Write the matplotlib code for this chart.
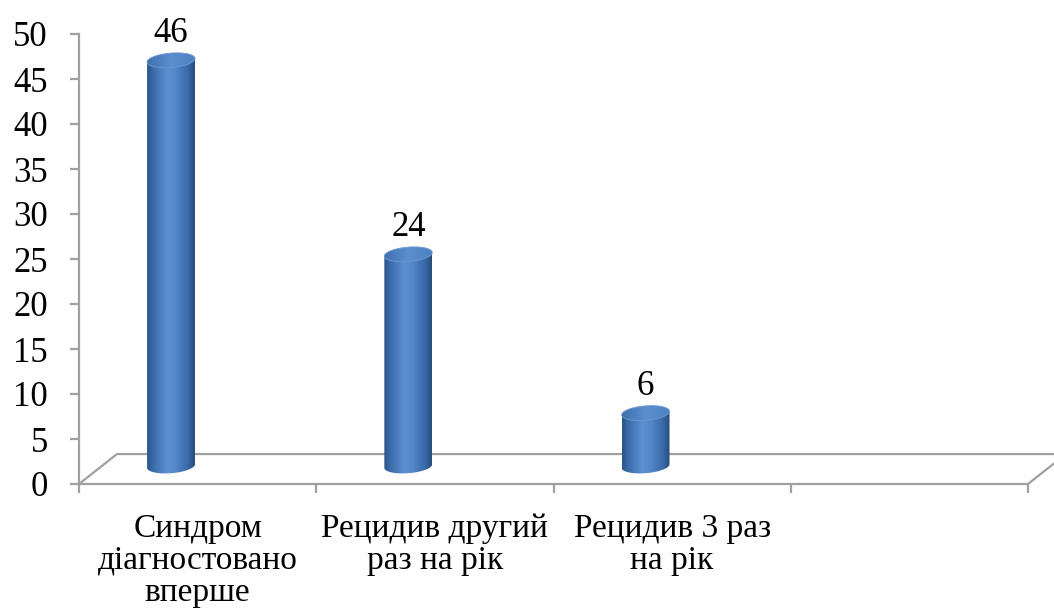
import numpy as np
import matplotlib.pyplot as plt
from matplotlib.path import Path
from matplotlib.patches import PathPatch
from matplotlib.colors import LinearSegmentedColormap

categories = ['Синдром\nдіагностовано\nвперше', 'Рецидив другий\nраз на рік',
              'Рецидив 3 раз\nна рік', '']
values = [46, 24, 6]
y_ticks = list(range(0, 55, 5))

plt.rcParams['font.family'] = ['Liberation Serif', 'DejaVu Serif']
grey = '#a0a0a0'

fig = plt.figure(figsize=(10.54, 6.09), dpi=100)
ax = fig.add_axes([79 / 1054, 125 / 609, 949 / 1054, 450 / 609])
ax.set_xlim(0, len(categories))
ax.set_ylim(0, 50)

# axes styling
for s in ['top', 'right']:
    ax.spines[s].set_visible(False)
for s in ['left', 'bottom']:
    ax.spines[s].set_color(grey)
    ax.spines[s].set_linewidth(1.6)
ax.set_yticks(y_ticks)
ax.set_yticklabels([str(v) for v in y_ticks], fontsize=25)
ax.set_xticks(range(len(categories) + 1))
ax.set_xticklabels([])
ax.tick_params(axis='y', length=6.5, width=1.6, color=grey, pad=16)
ax.tick_params(axis='x', length=6.5, width=1.6, color=grey)

# floor (3d depth)
dx, dy = 0.16, 3.33
n = len(categories)
ax.plot([0, dx, n + dx, n], [0, dy, dy, 0], color=grey, lw=1.6,
        clip_on=False, solid_capstyle='butt')

side_cmap = LinearSegmentedColormap.from_list('side', [
    (0.0, '#2a5387'), (0.12, '#3a6aa8'), (0.42, '#5c90d2'),
    (0.6, '#5387c9'), (0.85, '#3a6aa9'), (1.0, '#284c7b')])
top_cmap = LinearSegmentedColormap.from_list('top', [
    (0.0, '#3f70ad'), (0.5, '#5b8fd0'), (1.0, '#4d80c0')])
grad = np.linspace(0, 1, 256).reshape(1, -1)


def cylinder(ax, xc, top, base=2.0, hw=0.101, eh=0.8, tilt=0.2):
    t = np.linspace(0, np.pi, 80)
    xs = xc - hw * np.cos(t)
    yb = base - eh * np.sin(t) + tilt * (xs - xc) / hw
    verts = list(zip(xs, yb))
    verts += [(xc + hw, top + tilt), (xc - hw, top - tilt), verts[0]]
    side = PathPatch(Path(verts), fc='none', ec='none')
    ax.add_patch(side)
    im = ax.imshow(grad, cmap=side_cmap, aspect='auto',
                   extent=[xc - hw, xc + hw, base - eh - 1, top + 1],
                   interpolation='bicubic', zorder=3)
    im.set_clip_path(side)
    tt = np.linspace(0, 2 * np.pi, 160)
    ex = xc + hw * np.cos(tt)
    ey = top + eh * np.sin(tt) + tilt * (ex - xc) / hw
    cap = PathPatch(Path(list(zip(ex, ey)), closed=True), fc='none',
                    ec='#6f9ad3', lw=0.6, zorder=4)
    ax.add_patch(cap)
    im2 = ax.imshow(grad, cmap=top_cmap, aspect='auto',
                    extent=[xc - hw, xc + hw, top - eh - 1, top + eh + 1],
                    interpolation='bicubic', zorder=3.5)
    im2.set_clip_path(cap)


base = 2.0
scale = 0.98
for i, v in enumerate(values):
    xc = i + 0.388
    top = base + v * scale
    cylinder(ax, xc, top, base=base)
    ax.annotate(str(v), (xc, top), xytext=(0, 19), textcoords='offset points',
                ha='center', va='center', fontsize=25, annotation_clip=False)

for i, lab in enumerate(categories):
    ax.annotate(lab, (i + 0.5, 0), xytext=(0, -21), textcoords='offset points',
                ha='center', va='top', fontsize=24, linespacing=1.07,
                annotation_clip=False)

ax.set_xlim(0, len(categories))
ax.set_ylim(0, 50)
fig.savefig('out.png', dpi=100)
